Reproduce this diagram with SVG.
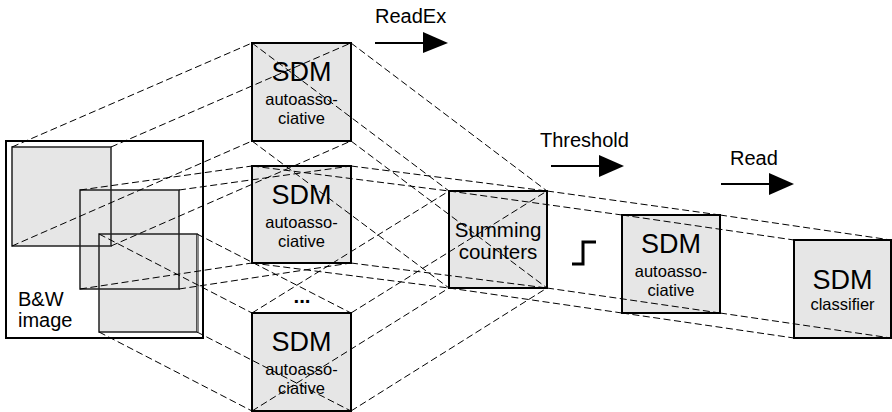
<svg xmlns="http://www.w3.org/2000/svg" width="892" height="412" viewBox="0 0 892 412">
<defs>
<style>
.box{fill:#e6e6e6;stroke:#000;stroke-width:2}
.frame{fill:#fff;stroke:#000;stroke-width:2}
.big{font-family:"Liberation Sans",Arial,sans-serif;font-size:27px;text-anchor:middle;fill:#000}
.small{font-family:"Liberation Sans",Arial,sans-serif;font-size:16.5px;text-anchor:middle;fill:#000}
.mid{font-family:"Liberation Sans",Arial,sans-serif;font-size:20.5px;text-anchor:middle;fill:#000}
.lbl{font-family:"Liberation Sans",Arial,sans-serif;font-size:20px;fill:#000}
.dash{stroke:#000;stroke-width:1;stroke-dasharray:7,3.5;fill:none}
.arr{stroke:#000;stroke-width:2;fill:none}
</style>
</defs>
<rect width="892" height="412" fill="#fff"/>

<g id="image">
<rect class="frame" x="6" y="141" width="197" height="197"/>
<rect x="12" y="147" width="99" height="99" fill="#e6e6e6"/>
<rect x="80" y="190" width="99" height="99" fill="#e6e6e6"/>
<rect x="99" y="234" width="98" height="98" fill="#e6e6e6"/>
<rect x="12" y="147" width="99" height="99" fill="none" stroke="#222" stroke-width="1.5"/>
<rect x="80" y="190" width="99" height="99" fill="none" stroke="#222" stroke-width="1.5"/>
<rect x="99" y="234" width="98" height="98" fill="none" stroke="#222" stroke-width="1.5"/>
<line x1="198" y1="234" x2="198" y2="332" stroke="#888" stroke-width="2"/>
<text class="lbl" x="18" y="306" font-size="21">B&amp;W</text>
<text class="lbl" x="18" y="327" font-size="21">image</text>
</g>

<g id="sdm1">
<rect class="box" x="252" y="43" width="99" height="98"/>
<text class="big" x="301.5" y="81">SDM</text>
<text class="small" x="301.5" y="105">autoasso-</text>
<text class="small" x="301.5" y="124">ciative</text>
</g>

<g id="sdm2">
<rect class="box" x="252" y="166" width="99" height="97"/>
<text class="big" x="301.5" y="204">SDM</text>
<text class="small" x="301.5" y="228">autoasso-</text>
<text class="small" x="301.5" y="247">ciative</text>
</g>

<g id="dots">
<text class="mid" x="302" y="303" font-size="24" font-weight="bold">...</text>
</g>

<g id="sdm3">
<rect class="box" x="252" y="313" width="99" height="98"/>
<text class="big" x="301.5" y="351">SDM</text>
<text class="small" x="301.5" y="375">autoasso-</text>
<text class="small" x="301.5" y="394">ciative</text>
</g>

<g id="summing">
<rect class="box" x="449" y="191" width="98" height="97"/>
<text class="mid" x="498" y="237">Summing</text>
<text class="mid" x="498" y="259">counters</text>
</g>

<g id="sdm4">
<rect class="box" x="622" y="215" width="98" height="98"/>
<text class="big" x="671" y="253">SDM</text>
<text class="small" x="671" y="277">autoasso-</text>
<text class="small" x="671" y="296">ciative</text>
</g>

<g id="classifier">
<rect class="box" x="794" y="240" width="97" height="98"/>
<text class="big" x="842.5" y="289">SDM</text>
<text class="small" x="842.5" y="310">classifier</text>
</g>

<g id="step">
<path d="M572,264 H583 V242 H596" stroke="#000" stroke-width="3" fill="none"/>
</g>

<g id="labels">
<text class="lbl" x="375" y="23">ReadEx</text>
<line class="arr" x1="375" y1="43" x2="424" y2="43"/>
<polygon points="423,32 448,43 423,53" fill="#000"/>
<text class="lbl" x="540" y="147">Threshold</text>
<line class="arr" x1="551" y1="166" x2="600" y2="166"/>
<polygon points="599,155 624,166 599,177" fill="#000"/>
<text class="lbl" x="730" y="165">Read</text>
<line class="arr" x1="721" y1="184" x2="770" y2="184"/>
<polygon points="769,173 794,184 769,195" fill="#000"/>
</g>

<g id="connectors" class="dash">
<line x1="12" y1="147" x2="252" y2="43"/>
<line x1="111" y1="147" x2="351" y2="43"/>
<line x1="12" y1="246" x2="252" y2="141"/>
<line x1="111" y1="246" x2="351" y2="141"/>
<line x1="80" y1="190" x2="252" y2="166"/>
<line x1="179" y1="190" x2="351" y2="166"/>
<line x1="80" y1="289" x2="252" y2="263"/>
<line x1="179" y1="289" x2="351" y2="263"/>
<line x1="99" y1="234" x2="252" y2="313"/>
<line x1="197" y1="234" x2="351" y2="313"/>
<line x1="99" y1="332" x2="252" y2="411"/>
<line x1="197" y1="332" x2="351" y2="411"/>
<line x1="252" y1="43" x2="449" y2="191"/>
<line x1="351" y1="43" x2="547" y2="191"/>
<line x1="252" y1="141" x2="449" y2="288"/>
<line x1="351" y1="141" x2="547" y2="288"/>
<line x1="252" y1="166" x2="449" y2="191"/>
<line x1="351" y1="166" x2="547" y2="191"/>
<line x1="252" y1="263" x2="449" y2="288"/>
<line x1="351" y1="263" x2="547" y2="288"/>
<line x1="252" y1="313" x2="449" y2="191"/>
<line x1="351" y1="313" x2="547" y2="191"/>
<line x1="252" y1="411" x2="449" y2="288"/>
<line x1="351" y1="411" x2="547" y2="288"/>
<line x1="449" y1="191" x2="622" y2="215"/>
<line x1="547" y1="191" x2="720" y2="215"/>
<line x1="449" y1="288" x2="622" y2="313"/>
<line x1="547" y1="288" x2="720" y2="313"/>
<line x1="622" y1="215" x2="794" y2="240"/>
<line x1="720" y1="215" x2="891" y2="240"/>
<line x1="622" y1="313" x2="794" y2="338"/>
<line x1="720" y1="313" x2="891" y2="338"/>
</g>
</svg>
